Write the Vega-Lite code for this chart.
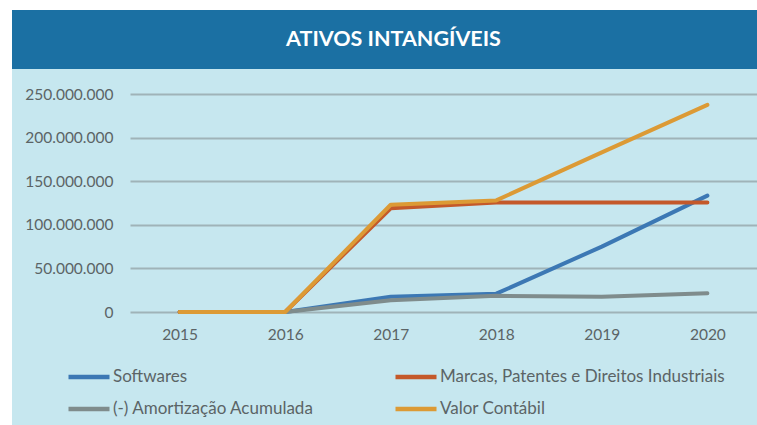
{
  "$schema": "https://vega.github.io/schema/vega-lite/v6.json",
  "background": "#ffffff",
  "padding": {"left": 12, "top": 10, "right": 0, "bottom": 0},
  "config": {
    "font": "Lato",
    "locale": {"number": {"decimal": ",", "thousands": ".", "grouping": [3], "currency": ["R$", ""]}},
    "concat": {"spacing": 0}
  },
  "vconcat": [
    {
      "width": 745,
      "height": 59,
      "view": {"fill": "#1b70a3", "stroke": null},
      "data": {"values": [{"t": "ATIVOS INTANGÍVEIS"}]},
      "mark": {"type": "text", "font": "Lato", "fontWeight": "bold", "fontSize": 21.5, "color": "#ffffff", "dx": 9, "baseline": "middle"},
      "encoding": {"text": {"field": "t"}}
    },
    {
      "width": 745,
      "height": 356,
      "view": {"fill": "#c6e7ef", "stroke": null},
      "data": {"values": [
        {"year": "2015", "serie": "Softwares", "valor": 0},
        {"year": "2016", "serie": "Softwares", "valor": 0},
        {"year": "2017", "serie": "Softwares", "valor": 17500000},
        {"year": "2018", "serie": "Softwares", "valor": 21000000},
        {"year": "2019", "serie": "Softwares", "valor": 75000000},
        {"year": "2020", "serie": "Softwares", "valor": 133500000},
        {"year": "2015", "serie": "Marcas, Patentes e Direitos Industriais", "valor": 0},
        {"year": "2016", "serie": "Marcas, Patentes e Direitos Industriais", "valor": 0},
        {"year": "2017", "serie": "Marcas, Patentes e Direitos Industriais", "valor": 119000000},
        {"year": "2018", "serie": "Marcas, Patentes e Direitos Industriais", "valor": 125500000},
        {"year": "2019", "serie": "Marcas, Patentes e Direitos Industriais", "valor": 125500000},
        {"year": "2020", "serie": "Marcas, Patentes e Direitos Industriais", "valor": 125500000},
        {"year": "2015", "serie": "(-) Amortização Acumulada", "valor": 0},
        {"year": "2016", "serie": "(-) Amortização Acumulada", "valor": 0},
        {"year": "2017", "serie": "(-) Amortização Acumulada", "valor": 13500000},
        {"year": "2018", "serie": "(-) Amortização Acumulada", "valor": 18500000},
        {"year": "2019", "serie": "(-) Amortização Acumulada", "valor": 17500000},
        {"year": "2020", "serie": "(-) Amortização Acumulada", "valor": 21500000},
        {"year": "2015", "serie": "Valor Contábil", "valor": 0},
        {"year": "2016", "serie": "Valor Contábil", "valor": 0},
        {"year": "2017", "serie": "Valor Contábil", "valor": 123000000},
        {"year": "2018", "serie": "Valor Contábil", "valor": 128000000},
        {"year": "2019", "serie": "Valor Contábil", "valor": 183000000},
        {"year": "2020", "serie": "Valor Contábil", "valor": 237500000}
      ]},
      "mark": {"type": "line", "strokeWidth": 4, "strokeCap": "round", "strokeJoin": "round"},
      "encoding": {
        "x": {
          "field": "year", "type": "ordinal",
          "scale": {"type": "point", "range": [118, 745], "padding": 0.47},
          "axis": {"title": null, "labelAngle": 0, "domain": false, "ticks": false, "grid": false, "offset": -113,
                   "labelFontSize": 15.5, "labelColor": "#5b6466", "labelPadding": 15, "labelFont": "Lato"}
        },
        "y": {
          "field": "valor", "type": "quantitative",
          "scale": {"domain": [0, 250000000], "nice": false, "range": [243, 25]},
          "axis": {"title": null, "values": [0, 50000000, 100000000, 150000000, 200000000, 250000000],
                   "format": ",d", "domain": false, "ticks": false, "tickSize": 0,
                   "gridColor": "#9fb3b8", "gridWidth": 2, "gridOpacity": 1,
                   "labelFontSize": 15.5, "labelColor": "#5b6466", "labelPadding": -101, "labelAlign": "right", "labelFont": "Lato"}
        },
        "color": {
          "field": "serie", "type": "nominal",
          "scale": {
            "domain": ["Softwares", "Marcas, Patentes e Direitos Industriais", "(-) Amortização Acumulada", "Valor Contábil"],
            "range": ["#3c78b4", "#c4592a", "#7f8c8c", "#dc9a35"]
          },
          "legend": {
            "title": null, "orient": "none", "legendX": 54, "legendY": 344,
            "direction": "horizontal", "columns": 2, "columnPadding": 72, "rowPadding": 0,
            "symbolType": "stroke", "symbolSize": 1681, "symbolStrokeWidth": 4.5,
            "labelFontSize": 17, "labelColor": "#5b6466", "labelFont": "Lato", "labelOffset": 1, "labelLimit": 400,
            "padding": 0
          }
        }
      }
    }
  ]
}
